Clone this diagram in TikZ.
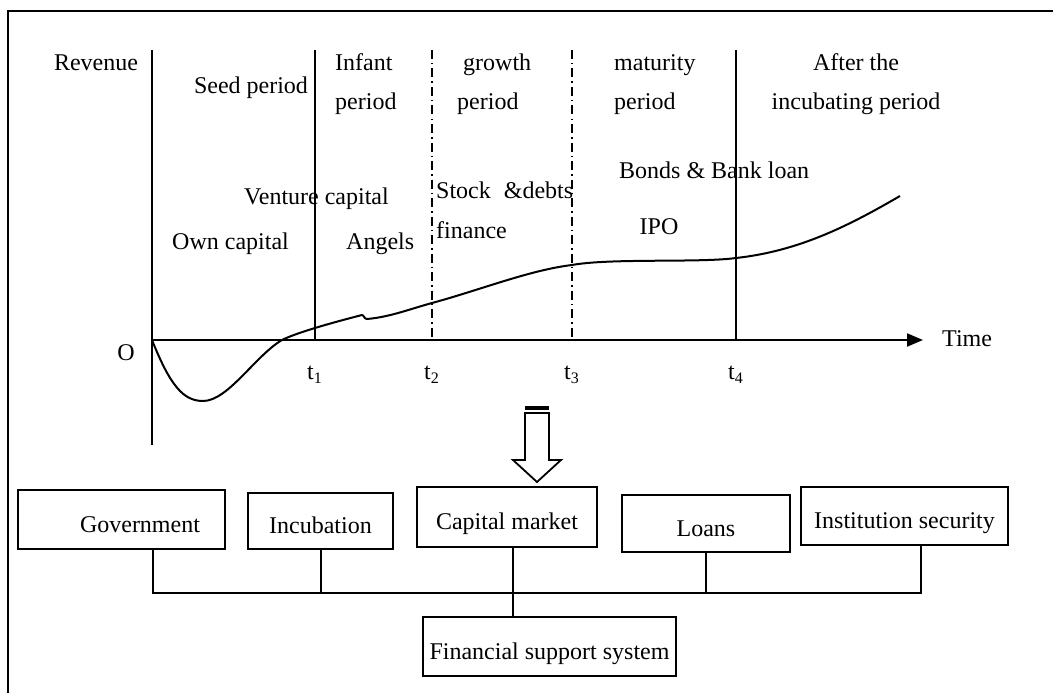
\documentclass[tikz,border=0pt]{standalone}
\usepackage{fontspec}
\setmainfont{Liberation Serif}
\usetikzlibrary{arrows.meta}
\newcommand{\tsub}[1]{t\raisebox{-4pt}{\fontsize{16}{16}\selectfont #1}}
\begin{document}
\begin{tikzpicture}[x=1pt,y=-1pt,
  every node/.style={font=\fontsize{24}{29}\selectfont, inner sep=0pt},
  lbl/.style={anchor=base},
  lblw/.style={anchor=base west},
  box/.style={draw, line width=2pt, inner sep=0pt, text height=25pt, text depth=0pt},
  rule/.style={line width=2pt},
  phase/.style={line width=1.8pt, dash pattern=on 9pt off 4pt on 1.5pt off 4pt},
  curve/.style={line width=2pt, line join=round}]
\useasboundingbox (0,0) rectangle (1053,693);

% outer frame
\draw[line width=1.5pt] (8,700) -- (8,11) -- (1060,11);

% axes
\coordinate (O) at (152,340);
\coordinate (ytop) at (152,50);
\coordinate (ybot) at (152,445);
\coordinate (xend) at (923,340);
\draw[rule] (ytop) -- (ybot);
\draw[rule, -{Triangle[length=16pt,width=13pt]}] (O) -- (xend);

% period boundaries
\foreach \n/\x in {1/315, 2/432, 3/572, 4/736} {
  \coordinate (b\n top) at (\x,50);
  \coordinate (b\n) at (\x,340);
}
\draw[rule] (b1top) -- (b1);
\draw[rule] (b4top) -- (b4);
\draw[phase] (b2top) -- (b2);
\draw[phase] (b3top) -- (b3);

% axis labels
\node[anchor=base east] (olbl) at (135,360) {O};
\node[lblw] (time) at (942,346) {Time};
\node[lblw] (t1) at (307,379) {\tsub{1}};
\node[lblw] (t2) at (424,379) {\tsub{2}};
\node[lblw] (t3) at (564,379) {\tsub{3}};
\node[lblw] (t4) at (728,379) {\tsub{4}};

% period names
\node[lbl] (rev) at (96,71) {Revenue};
\node[lbl] (seed) at (251,93) {Seed period};
\node[lblw] (inf1) at (335,71) {Infant};
\node[lblw] (inf2) at (335,110) {period};
\node[lblw] (gro1) at (463,71) {growth};
\node[lblw] (gro2) at (457,110) {period};
\node[lblw] (mat1) at (614,71) {maturity};
\node[lblw] (mat2) at (614,110) {period};
\node[lbl] (aft1) at (856,71) {After the};
\node[lbl] (aft2) at (856,110) {incubating period};

% financing sources
\node[lblw] (vc) at (244,204) {Venture capital};
\node[lblw] (own) at (172,249) {Own capital};
\node[lblw] (ang) at (346,249) {Angels};
\node[lblw] (stock) at (436,198) {Stock\hspace{13pt}\&debts};
\node[lblw] (fin) at (436,238) {finance};
\node[lblw] (bonds) at (619,178) {Bonds \& Bank loan};
\node[lbl] (ipo) at (659,234) {IPO};

% revenue curve
\draw[curve] (O) .. controls (170,385) and (183,401) .. (203,401)
  .. controls (228,401) and (255,356) .. (282,340)
  .. controls (298,332) and (335,322) .. (362,315)
  .. controls (364,315) and (364,319) .. (367,319)
  .. controls (390,317) and (410,309) .. (432,303)
  .. controls (480,290) and (530,270) .. (572,265)
  .. controls (610,258) and (700,263) .. (736,258)
  .. controls (800,251) and (850,225) .. (900,196);

% block arrow
\fill (525,406) rectangle (549,410);
\draw[line width=1.8pt, line join=miter] (525,413) -- (549,413) -- (549,460) -- (561,460)
  -- (537,482) -- (513,460) -- (525,460) -- cycle;

% support boxes
\node[box, minimum width=207pt, minimum height=59pt] (gov) at (121.5,519.5) {\hspace{37pt}Government};
\node[box, minimum width=145pt, minimum height=56pt] (inc) at (320.5,521) {Incubation};
\node[box, minimum width=180pt, minimum height=60pt] (cap) at (507,517) {Capital market};
\node[box, minimum width=168pt, minimum height=57pt] (loans) at (706,523.5) {Loans};
\node[box, minimum width=207pt, minimum height=58pt] (inst) at (904.5,516) {Institution security};
\node[box, minimum width=253pt, minimum height=59pt] (fss) at (549.5,646.5) {Financial support system};

% connectors
\coordinate (busL) at (153,593);
\coordinate (busR) at (921,593);
\coordinate (busC) at (513,593);
\draw[rule] (gov.south -| busL) -- (busL) -- (busR) -- (inst.south -| busR);
\draw[rule] (inc.south) -- (inc.south |- busL);
\draw[rule] (loans.south) -- (loans.south |- busL);
\draw[rule] (cap.south -| busC) -- (fss.north -| busC);
\end{tikzpicture}
\end{document}
